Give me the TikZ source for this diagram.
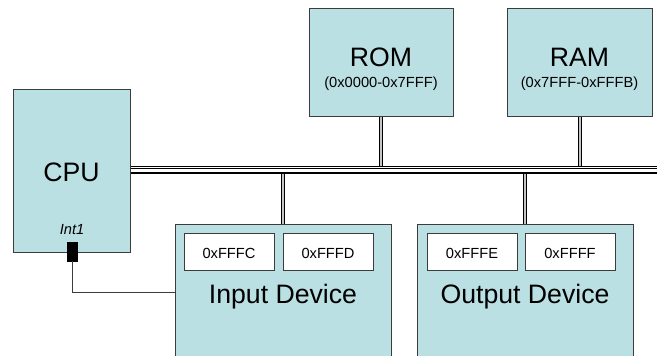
\documentclass[tikz,border=0pt]{standalone}
\usepackage{fontspec}
\setmainfont{Liberation Sans}
\usetikzlibrary{fit}
\definecolor{unitblue}{RGB}{187,224,227}
\definecolor{unitedge}{RGB}{60,60,60}
\newcommand{\bigtxt}{\fontsize{20}{24}\selectfont}
\newcommand{\smalltxt}{\fontsize{11}{13}\selectfont}

\begin{document}
\begin{tikzpicture}[x=0.75pt, y=-0.75pt,
    unit/.style={draw=unitedge, fill=unitblue, inner sep=0pt, line width=0.75pt},
    reg/.style={draw=unitedge, fill=white, inner sep=0pt, line width=0.75pt},
    intpin/.style={draw=black, fill=black, inner sep=0pt},
    bus/.style={line width=1.1pt, double=white, double distance=2.25pt},
    tap/.style={line width=0.75pt, double=gray!45, double distance=1.5pt},
    wire/.style={draw=unitedge, line width=0.75pt}]

    \clip (0,0) rectangle (657,356);

    % units
    \node[unit, fit={(13,90) (130,252)}] (cpu) {};
    \node[unit, fit={(309,9) (453,117)}] (rom) {};
    \node[unit, fit={(507,9) (652,117)}] (ram) {};
    \node[unit, fit={(175,225) (391,359)}] (indev) {};
    \node[unit, fit={(417,225) (633,359)}] (outdev) {};

    \node[font=\bigtxt, anchor=base] (cpuname) at (71.5,182) {CPU};
    \node[font=\bigtxt, anchor=base] (romname) at (381,67) {ROM};
    \node[font=\smalltxt, anchor=base] (romaddr) at (381,88) {(0x0000-0x7FFF)};
    \node[font=\bigtxt, anchor=base] (ramname) at (579.5,67) {RAM};
    \node[font=\smalltxt, anchor=base] (ramaddr) at (579.5,88) {(0x7FFF-0xFFFB)};

    % device registers
    \node[reg, fit={(184,234) (274,270)}] (regc) {};
    \node[reg, fit={(283,234) (373,270)}] (regd) {};
    \node[reg, fit={(427,234) (517,270)}] (rege) {};
    \node[reg, fit={(525,234) (615,270)}] (regf) {};
    \foreach \r/\t in {regc/0xFFFC, regd/0xFFFD, rege/0xFFFE, regf/0xFFFF}
      \node[font=\smalltxt, anchor=base] at ([yshift=-5.2pt]\r.center) {\t};
    \node[font=\bigtxt, anchor=base] (inname) at (283,303) {Input Device};
    \node[font=\bigtxt, anchor=base] (outname) at (525,303) {Output Device};

    % interrupt line
    \node[font=\smalltxt\itshape, anchor=base] (inttxt) at (72,234) {Int1};
    \node[intpin, fit={(67,242) (77,261)}] (int) {};
    \draw[wire] (int.south) |- (indev.west);

    % bus and taps
    \coordinate (busend) at (657,171);
    \draw[tap, shorten >=3.4pt] (rom.south) -- (rom.south |- busend);
    \draw[tap, shorten >=3.4pt] (ram.south) -- (ram.south |- busend);
    \draw[tap, shorten >=2pt] (indev.north) -- (indev.north |- busend);
    \draw[tap, shorten >=2pt] (outdev.north) -- (outdev.north |- busend);
    \draw[bus] (cpu.east) -- (busend);
    \draw[line width=0.5pt] ([yshift=3.4pt]cpu.east) -- ([yshift=3.4pt]busend);

\end{tikzpicture}
\end{document}
